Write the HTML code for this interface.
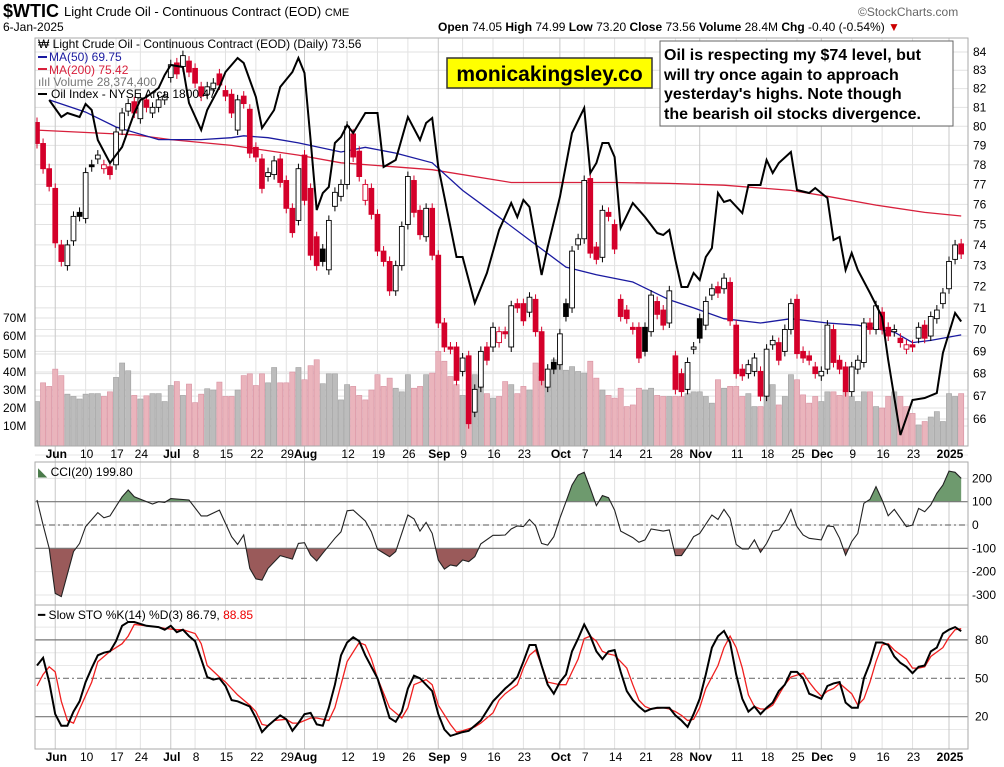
<!DOCTYPE html>
<html><head><meta charset="utf-8">
<style>
html,body{margin:0;padding:0;background:#fff;}
svg{display:block;font-family:"Liberation Sans",sans-serif;}
</style></head>
<body>
<svg id="chart" width="1004" height="767" viewBox="0 0 1004 767" xmlns="http://www.w3.org/2000/svg">
<defs>
<clipPath id="cMain"><rect x="35" y="38" width="933" height="408"/></clipPath>
<clipPath id="cGreen"><rect x="35" y="462" width="933" height="39.7"/></clipPath>
<clipPath id="cBrown"><rect x="35" y="548.3" width="933" height="57"/></clipPath>
<clipPath id="cSto"><rect x="35" y="606" width="933" height="143"/></clipPath>
</defs>
<g id="g-grid"></g>
<g id="g-vol" clip-path="url(#cMain)"></g>
<g id="g-ma" clip-path="url(#cMain)"></g>
<g id="g-candles" clip-path="url(#cMain)"></g>
<g id="g-xoi" clip-path="url(#cMain)"></g>
<g id="g-cci"></g>
<g id="g-sto" clip-path="url(#cSto)"></g>
<g id="g-frames"></g>
<g id="g-labels"></g>

<text x="3" y="17" font-size="18" font-weight="bold">$WTIC</text>
<text x="64" y="16" font-size="13">Light Crude Oil - Continuous Contract (EOD) <tspan font-size="11">CME</tspan></text>
<text x="3" y="31" font-size="12">6-Jan-2025</text>
<text x="858" y="16" font-size="12" fill="#666">©StockCharts.com</text>
<text x="438" y="31" font-size="12"><tspan font-weight="bold">Open</tspan> 74.05  <tspan font-weight="bold">High</tspan> 74.99  <tspan font-weight="bold">Low</tspan> 73.20  <tspan font-weight="bold">Close</tspan> 73.56  <tspan font-weight="bold">Volume</tspan> 28.4M  <tspan font-weight="bold">Chg</tspan> -0.40 (-0.54%) <tspan fill="#c00">▼</tspan></text>

<g font-size="12">
<text x="38" y="48">₩ Light Crude Oil - Continuous Contract (EOD) (Daily) 73.56</text>
<line x1="38" y1="57" x2="47" y2="57" stroke="#1a1aa0" stroke-width="2"/><text x="49" y="61" fill="#1a1aa0">MA(50) 69.75</text>
<line x1="38" y1="69" x2="47" y2="69" stroke="#d8203c" stroke-width="2"/><text x="49" y="74" fill="#d8203c">MA(200) 75.42</text>
<text x="38" y="86" fill="#777">ılıl Volume 28,374,400</text>
<line x1="38" y1="94" x2="47" y2="94" stroke="#000" stroke-width="2"/><text x="51" y="98">Oil Index - NYSE Arca 1800.47</text>
</g>

<g>
<rect x="447" y="58" width="205" height="30" fill="#ffff00" stroke="#333" stroke-width="1.5"/>
<text x="549.5" y="81" font-size="21" font-weight="bold" text-anchor="middle">monicakingsley.co</text>
</g>
<g>
<rect x="660" y="41" width="293" height="85" fill="#fff" stroke="#666" stroke-width="1"/>
<text font-size="16" font-weight="bold">
<tspan x="664" y="60">Oil is respecting my $74 level, but</tspan>
<tspan x="664" y="80">will try once again to approach</tspan>
<tspan x="664" y="99">yesterday's highs. Note though</tspan>
<tspan x="664" y="119">the bearish oil stocks divergence.</tspan>
</text>
</g>

<text x="38" y="476" font-size="12"><tspan fill="#4a7a4a">◣</tspan> CCI(20) 199.80</text>
<text x="38" y="619" font-size="12">━ Slow STO %K(14) %D(3) 86.79, <tspan fill="#e00">88.85</tspan></text>
</svg>
<script>
const opens=[80.2,79.1,77.8,76.8,74.0,73.0,74.2,75.6,75.3,78.0,78.3,77.8,77.9,78.0,79.8,80.8,81.3,80.4,81.4,80.7,81.0,81.4,82.6,83.4,83.2,83.5,83.1,82.1,81.7,82.0,82.8,81.9,81.7,79.8,81.6,80.9,78.9,78.3,77.4,77.5,78.3,77.2,75.8,75.2,78.5,76.8,74.4,73.8,72.8,75.9,76.4,77.0,79.6,78.7,76.2,76.8,75.5,73.7,73.2,71.8,73.0,75.0,77.2,75.7,74.4,75.8,73.5,70.3,69.2,69.2,68.1,68.8,66.3,67.4,69.2,69.2,69.4,69.9,69.2,71.2,71.2,70.8,71.4,69.9,67.4,68.5,68.4,71.2,71.0,74.0,74.3,77.3,73.9,73.4,75.6,75.0,71.4,70.9,70.1,70.1,70.1,69.9,71.3,70.9,70.3,68.8,68.0,67.3,69.1,70.5,70.2,71.6,72.0,71.9,72.2,70.2,68.2,68.0,68.1,68.1,67.0,69.3,69.4,69.0,70.0,71.4,69.0,68.8,68.3,67.9,68.2,70.0,68.6,68.3,67.2,68.2,68.5,70.3,70.0,70.8,70.1,69.9,69.6,69.1,69.3,69.6,70.2,69.7,70.5,71.2,71.9,73.3,74.05];
const closes=[79.1,77.8,76.9,74.1,73.2,74.0,75.4,75.4,77.6,77.9,78.5,78.0,77.5,79.7,80.7,81.2,80.7,81.5,81.0,81.0,81.4,81.6,83.3,82.8,83.8,82.9,82.3,81.6,82.1,82.3,82.2,81.6,80.7,81.4,81.2,78.6,78.4,76.8,77.6,78.2,77.1,75.8,74.6,77.8,76.2,73.5,73.0,73.2,75.2,76.6,77.0,80.0,78.4,77.4,77.0,75.5,73.7,73.2,71.8,73.0,74.9,77.4,75.6,74.5,75.8,73.5,70.3,69.2,69.1,67.7,68.7,65.8,67.3,69.0,68.6,70.1,69.9,69.8,71.1,71.0,70.4,71.5,69.9,67.7,68.2,68.2,69.8,70.6,73.7,74.3,77.2,73.6,73.3,75.7,75.4,73.8,70.6,70.5,70.0,68.7,69.0,71.6,70.7,70.2,71.8,67.3,67.2,68.5,69.2,69.6,71.3,71.9,71.7,72.4,70.4,68.0,67.9,68.4,68.7,67.0,69.1,69.5,68.6,70.0,71.2,68.9,68.7,68.6,68.0,68.1,70.2,68.5,68.2,67.2,68.3,68.6,70.3,70.0,71.1,70.0,69.7,70.0,69.4,69.3,69.2,70.1,69.6,70.6,70.9,71.7,73.2,74.0,73.56];
const volumes=[23.6,34,32,41.6,38,27.7,26.4,25,27.7,28,28,26.4,29,37,45,40.7,27,25,26.8,28,28,23.6,32.5,34.7,27,33.3,23,27.7,30.7,30,34.4,26.4,26.4,30,38,39,32.5,39,34,42.5,34,34,40,42.5,35.7,43.5,46.8,33.5,39,39,24.5,33,32,27,24.5,30,38.5,32,36.6,31,29,38.5,31,32,38.5,39.4,51.5,46,37.5,33,27,36.6,38.5,33,28,25.5,26.4,34.7,33,28,32,30,45,37.5,34.7,46.8,46,41,43,40.3,39.4,46,36.6,30,27,25.5,31,20.8,21.7,31,30,31,27,26.4,26.4,26.4,26.4,28,29,29,26.4,22.7,35.7,31,32,32,26.4,28,20.8,20.8,29,33,21.7,26.4,38.5,35.7,27.3,22.7,26.4,23.6,29,29,27,30,26.4,23.6,29,29,20.8,20,26.4,29,26.4,20.8,17,10.6,12.5,15,18,12.5,28,26.4,28];
const ma50Idx=[2,8,13,20,27,32,34,38,43,50,54,59,65,70,76,81,87,92,98,104,108,113,119,124,130,135,141,144,147,152];
const ma50Val=[81.4,80.75,79.96,79.3,79.3,79.4,79.5,79.4,79.13,78.66,78.9,78.6,78.1,76.7,75.36,74.24,72.93,72.56,72.22,71.38,71.0,70.5,70.3,70.5,70.3,70.2,69.88,69.4,69.5,69.75];
const ma200Idx=[0,16,22,32,43,50,65,78,95,104,113,124,130,138,146,152];
const ma200Val=[79.8,79.55,79.3,79.0,78.5,78.1,77.75,77.1,77.1,77.05,76.96,76.7,76.4,75.96,75.6,75.42];
const xoiIdx=[2,4,5,7,8,9,10,12,14,15,16,17,18,20,21,22,24,25,27,28,30,31,33,34,36,37,39,40,42,43,44,45,46,47,48,49,50,51,52,54,56,57,59,61,63,64,65,66,67,69,70,72,74,76,78,79,80,81,83,84,86,88,90,91,92,93,94,95,96,98,100,102,103,104,105,106,107,108,109,110,111,112,113,114,116,117,119,120,121,122,124,125,127,128,130,131,132,133,134,135,137,139,140,142,144,146,148,149,151,152];
const xoiVal=[2022,2005,2009,2005,2018,2012,1982,1959,1975,1992,2009,2022,2025,2034,2047,2057,2055,2019,1992,2012,2035,2050,2064,2059,2025,1994,2012,2035,2050,2064,2049,1982,1912,1929,1935,1979,1985,1997,1989,2009,2009,1955,1962,2005,1982,1999,2004,1955,1925,1865,1865,1819,1849,1892,1919,1905,1922,1915,1847,1875,1925,1989,2014,1949,1959,1979,1979,1965,1894,1919,1905,1889,1887,1892,1862,1835,1835,1849,1842,1865,1874,1929,1920,1922,1909,1937,1937,1962,1949,1959,1970,1932,1929,1934,1924,1882,1885,1852,1869,1852,1829,1805,1762,1687,1722,1724,1729,1769,1809,1800.47];
const cciIdx=[0,1,2,3,4,6,7,8,10,11,12,14,15,16,19,20,21,22,25,27,28,30,32,33,34,35,36,37,38,40,42,43,44,45,46,47,49,50,51,52,54,55,56,58,59,61,62,63,64,65,66,67,68,69,70,71,72,73,75,76,77,78,79,80,81,82,83,84,85,86,87,88,89,90,91,92,93,94,95,96,98,99,100,101,103,104,105,106,107,108,109,111,112,113,114,115,116,117,118,119,120,121,122,123,124,125,126,127,129,130,131,132,133,134,135,136,137,138,139,140,141,143,144,145,146,147,148,149,150,151,152];
const cciVal=[107,0,-100,-293,-307,-114,-79,-7,53,31,39,121,150,121,90,100,97,113,107,39,39,64,-50,-83,-43,-186,-231,-236,-186,-131,-146,-79,-76,-129,-154,-121,-57,-29,61,64,17,-29,-104,-136,-114,43,26,-26,11,-36,-150,-189,-171,-176,-150,-157,-136,-81,-44,-44,-43,-17,-4,-7,24,-4,-79,-86,-50,29,100,171,214,226,157,83,126,117,64,-26,-54,-74,-64,-17,-26,-21,-131,-131,-93,-50,-36,43,24,67,29,-83,-103,-103,-64,-117,-79,-26,-21,14,67,-7,-43,-57,-64,-4,-7,-57,-129,-71,-36,93,110,164,107,40,67,-7,0,71,57,86,136,171,231,226,199.8];
const kIdx=[0,1,2,3,4,5,6,7,8,9,10,11,12,13,14,15,16,18,20,21,22,23,24,25,26,27,28,29,30,31,32,33,35,36,37,38,39,40,41,42,43,44,45,46,47,48,49,50,51,52,53,54,56,58,59,60,61,62,63,65,66,67,68,70,71,72,73,75,76,77,78,79,80,81,82,83,84,85,86,87,88,89,90,91,92,93,94,95,96,97,98,99,100,101,102,104,105,106,107,108,109,110,111,112,113,114,115,116,117,118,119,120,121,122,123,124,125,126,127,128,129,130,131,132,133,134,135,136,137,138,139,140,141,142,143,144,145,146,147,148,149,150,151,152];
const kVal=[60,66,47,22,13,13,24,32,47,58,68,70,71,79,91,94,94,91,90,88,91,86,88,83,79,65,51,49,50,44,33,32,28,19,8,13,17,21,18,9,15,22,23,14,13,27,45,68,78,82,79,68,50,19,16,24,42,52,50,40,22,10,5,8,9,13,17,32,37,42,46,51,63,76,76,60,45,38,47,53,71,81,92,83,71,65,71,72,55,40,33,28,24,26,27,27,21,17,12,22,34,53,74,83,87,78,53,34,24,28,22,27,31,40,45,55,55,50,38,36,34,44,46,47,31,27,27,50,62,78,78,76,67,62,59,54,59,60,71,74,85,88,90,86.79];
const dIdx=[0,1,2,3,4,5,6,7,9,10,12,14,15,16,18,20,21,23,24,26,27,28,30,31,33,35,36,37,38,39,41,42,43,45,46,47,48,49,50,51,53,54,55,56,58,60,61,62,64,65,66,68,69,70,72,73,75,76,77,79,80,81,82,83,84,86,87,88,89,90,91,92,93,94,95,97,98,99,100,101,103,104,105,106,107,108,109,110,112,113,114,115,116,117,118,119,120,121,122,123,124,126,127,128,129,130,131,132,134,135,136,137,138,139,140,141,143,144,145,146,147,149,150,151,152];
const dVal=[44,53,59,55,32,17,15,26,47,63,71,77,83,92,91,90,89,88,88,85,77,60,51,47,37,29,24,14,13,17,18,15,15,19,19,18,17,27,45,63,78,76,65,50,27,19,27,45,49,45,29,14,8,9,12,15,23,33,38,45,58,68,72,60,47,45,45,55,65,81,83,79,71,69,68,58,45,33,28,26,27,26,24,21,17,18,27,42,60,74,83,74,58,37,28,26,26,29,37,45,51,54,47,41,36,40,42,46,38,29,34,47,63,76,77,72,65,58,58,59,67,74,82,88,88.85];
const xLabelIdx=[3,8,13,17,22,26,31,36,41,44,51,56,61,66,70,75,80,86,90,95,100,105,109,115,120,125,129,134,139,144,150];
const xLabelText=["Jun","10","17","24","Jul","8","15","22","29","Aug","12","19","26","Sep","9","16","23","Oct","7","14","21","28","Nov","11","18","25","Dec","9","16","23","2025"];
const priceTicks=[66,67,68,69,70,71,72,73,74,75,76,77,78,79,80,81,82,83,84];
const volTicks=[10,20,30,40,50,60,70];
const cciTicks=[200,100,0,-100,-200,-300];
const stoTicks=[80,50,20];

const NS="http://www.w3.org/2000/svg";
const L=35,R=968;
const X=i=>37+i*6.08;
const yP=p=>52+(Math.log(84)-Math.log(p))*1522;
const yV=v=>444-v*1.8;
const yX=v=>322-(v-1800);
const yC=v=>525-v*0.2333;
const yS=v=>742.3-v*1.28;
function mk(tag,attrs,parent){const e=document.createElementNS(NS,tag);for(const k in attrs)e.setAttribute(k,attrs[k]);parent.appendChild(e);return e;}
const gGrid=document.getElementById('g-grid');
const gVol=document.getElementById('g-vol');
const gMa=document.getElementById('g-ma');
const gC=document.getElementById('g-candles');
const gX=document.getElementById('g-xoi');
const gCci=document.getElementById('g-cci');
const gSto=document.getElementById('g-sto');
const gF=document.getElementById('g-frames');
const gL=document.getElementById('g-labels');

// horizontal grid
priceTicks.forEach(p=>{const y=yP(p);const l=mk('line',{x1:L,x2:R,y1:y,y2:y,stroke:'#e2e2e2'},gGrid);

const t=mk('text',{x:973,y:y+4,'font-size':12},gL);t.textContent=p;
});
volTicks.forEach(v=>{const y=yV(v);const l=mk('line',{x1:L,x2:R,y1:y,y2:y,stroke:'#e2e2e2'},gGrid);

const t=mk('text',{x:3,y:y+4,'font-size':12},gL);t.textContent=v+'M';
});
[300,200,100,0,-100,-200,-300].forEach(v=>{const y=yC(v);const l=mk('line',{x1:L,x2:R,y1:y,y2:y,stroke:'#e4e4e4'},gGrid);
});
cciTicks.forEach(v=>{const y=yC(v);const t=mk('text',{x:972,y:y+4,'font-size':12},gL);t.textContent=v;
});
[10,30,40,60,70,90].forEach(v=>{const y=yS(v);const l=mk('line',{x1:L,x2:R,y1:y,y2:y,stroke:'#e8e8e8'},gGrid);
});
stoTicks.forEach(v=>{const y=yS(v);const t=mk('text',{x:975,y:y+4,'font-size':12},gL);t.textContent=v;
});
// vertical grid + x labels
xLabelIdx.forEach((b,k)=>{const x=X(b);const isM=isNaN(+xLabelText[k])||xLabelText[k]==='2025';
const l=mk('line',{x1:x,x2:x,y1:38,y2:749,stroke:isM?'#c8c8c8':'#e2e2e2'},gGrid);

[458,761].forEach(yy=>{const t=mk('text',{x:x+1,y:yy,'font-size':12,'text-anchor':'middle','font-weight':isM?'bold':'normal'},gL);
t.textContent=xLabelText[k];});});

// volume
volumes.forEach((v,i)=>{const down=i>0&&closes[i]<closes[i-1];
const r=mk('rect',{x:X(i)-2.6,y:yV(v),width:5.2,height:444-yV(v)+2,fill:down?'#eab4bc':'#bcbcbc',stroke:down?'#d890a0':'#a0a0a0','stroke-width':0.6},gVol);
});

function pathOf(idx,val,fy){return idx.map((b,k)=>(k?'L':'M')+X(b).toFixed(1)+','+fy(val[k]).toFixed(1)).join(' ');}
const m200=mk('path',{d:pathOf(ma200Idx,ma200Val,yP),fill:'none',stroke:'#d8203c','stroke-width':1.3},gMa);

const m50=mk('path',{d:pathOf(ma50Idx,ma50Val,yP),fill:'none',stroke:'#1a1aa0','stroke-width':1.3},gMa);


// candles
opens.forEach((o,i)=>{const c=closes[i];const prev=i?closes[i-1]:o;const red=c<prev;const col=red?'#d4002a':'#000';
const filled=c<o;const x=X(i);const top=yP(Math.max(o,c)),bot=yP(Math.min(o,c));
const w=mk('line',{x1:x,x2:x,y1:top-5,y2:bot+5,stroke:col,'stroke-width':1},gC);

const r=mk('rect',{x:x-2.4,y:top,width:4.8,height:Math.max(1,bot-top),fill:filled?col:'#fff',stroke:col,'stroke-width':0.9},gC);
});

const xo=mk('path',{d:pathOf(xoiIdx,xoiVal,yX),fill:'none',stroke:'#000','stroke-width':2},gX);


// CCI
const cciD=pathOf(cciIdx,cciVal,yC);
const x0=X(cciIdx[0]),x1=X(cciIdx[cciIdx.length-1]);
const gF1=mk('path',{d:cciD+` L${x1},${yC(100)} L${x0},${yC(100)} Z`,fill:'#6e9a6e',stroke:'none','clip-path':'url(#cGreen)'},gCci);

const gF2=mk('path',{d:cciD+` L${x1},${yC(-100)} L${x0},${yC(-100)} Z`,fill:'#9a5a5a',stroke:'none','clip-path':'url(#cBrown)'},gCci);

[[100,'none'],[-100,'none'],[0,'6,3,2,3']].forEach(([v,da])=>{const l=mk('line',{x1:L,x2:R,y1:yC(v),y2:yC(v),stroke:'#777','stroke-width':1.2,'stroke-dasharray':da},gCci);
});
const cl=mk('path',{d:cciD,fill:'none',stroke:'#222','stroke-width':1.1},gCci);


// STO
[[80,'none'],[20,'none'],[50,'6,3,2,3']].forEach(([v,da])=>{const l=mk('line',{x1:L,x2:R,y1:yS(v),y2:yS(v),stroke:'#777','stroke-width':1.2,'stroke-dasharray':da},gSto);
});
const dl=mk('path',{d:pathOf(dIdx,dVal,yS),fill:'none',stroke:'#f02020','stroke-width':1.3},gSto);

const kl=mk('path',{d:pathOf(kIdx,kVal,yS),fill:'none',stroke:'#000','stroke-width':2},gSto);


// frames
[[38,446],[462,605],[605,749]].forEach(([a,b])=>{const r=mk('rect',{x:L,y:a,width:R-L,height:b-a,fill:'none',stroke:'#aaa','stroke-width':1},gF);
});
</script>
</body></html>
